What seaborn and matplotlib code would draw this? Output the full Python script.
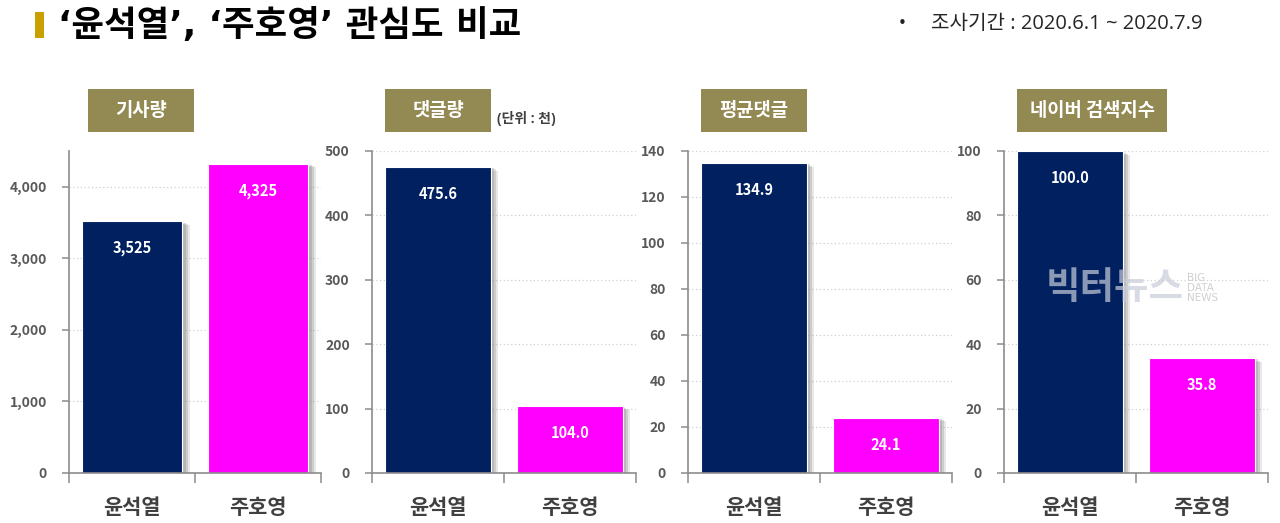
import matplotlib
matplotlib.use("Agg")
import matplotlib.pyplot as plt
import matplotlib.patheffects as pe
from matplotlib.patches import Rectangle
from matplotlib.ticker import FuncFormatter, FixedLocator
import seaborn as sns
import pandas as pd

sns.set_theme(style="white")
plt.rcParams['font.family'] = ['Noto Sans CJK KR', 'DejaVu Sans']

# ---- data ----
categories = ["윤석열", "주호영"]
panel_titles = ["기사량", "댓글량", "평균댓글", "네이버 검색지수"]
article_counts = [3525, 4325]
comment_counts = [475.6, 104.0]
avg_comments = [134.9, 24.1]
naver_index = [100.0, 35.8]
value_labels = [["3,525", "4,325"], ["475.6", "104.0"], ["134.9", "24.1"], ["100.0", "35.8"]]
y_ticks = [[0, 1000, 2000, 3000, 4000], [0, 100, 200, 300, 400, 500],
           [0, 20, 40, 60, 80, 100, 120, 140], [0, 20, 40, 60, 80, 100]]
y_max = [4500, 500, 140, 100]
title = "‘윤석열’, ‘주호영’ 관심도 비교"
subtitle = "조사기간 : 2020.6.1 ~ 2020.7.9"
unit_note = "(단위 : 천)"

series = [article_counts, comment_counts, avg_comments, naver_index]
colors = ["#002060", "#FF00FF"]

W, H = 1280, 523
fig = plt.figure(figsize=(W / 100, H / 100), dpi=100)
fig.patch.set_facecolor("white")

def px(x0, y0, w, h):
    return [x0 / W, 1 - (y0 + h) / H, w / W, h / H]

axes_px = [(69, 252), (372, 264), (688, 264), (1004, 264)]
box_px = [(88, 106), (385, 106), (701, 106), (1017, 150)]
top_y, zero_y = 151, 473
latin_kr = ['Open Sans', 'Noto Sans CJK KR']

shadow = [pe.SimplePatchShadow(offset=(o, -o * 0.5), shadow_rgbFace="#808080", alpha=a)
          for o, a in [(5.5, 0.18), (4, 0.25), (2.5, 0.3)]]

for i, (vals, (ax_x, ax_w)) in enumerate(zip(series, axes_px)):
    ax = fig.add_axes(px(ax_x, top_y, ax_w, zero_y - top_y))
    df = pd.DataFrame({"cat": categories, "val": vals})
    sns.barplot(data=df, x="cat", y="val", hue="cat", palette=colors,
                legend=False, ax=ax, width=0.8, saturation=1)
    for p in ax.patches:
        p.set_path_effects(shadow + [pe.Normal()])
        p.set_edgecolor("white")
        p.set_linewidth(0.8)
    ax.set_ylim(0, y_max[i])
    ax.set_xlim(-0.5, 1.5)
    ax.set_yticks(y_ticks[i])
    if i == 0:
        ax.yaxis.set_major_formatter(FuncFormatter(lambda v, _: f"{int(v):,}"))
    ax.grid(axis="y", color="#d0d0d0", linestyle=(0, (1, 2)), linewidth=0.9)
    ax.set_axisbelow(True)
    for s in ["top", "right"]:
        ax.spines[s].set_visible(False)
    for s in ["left", "bottom"]:
        ax.spines[s].set_color("#8c8c8c")
        ax.spines[s].set_linewidth(1.2)
    ax.tick_params(axis="y", which="major", length=5, width=1.1, color="#8c8c8c",
                   pad=11, labelsize=10, labelcolor="#595959", left=True)
    ax.tick_params(axis="x", which="major", length=0, pad=17, labelsize=15, labelcolor="#404040")
    ax.xaxis.set_minor_locator(FixedLocator([-0.5, 0.5, 1.5]))
    ax.tick_params(axis="x", which="minor", length=7, width=1.1, color="#8c8c8c", bottom=True)
    for lab in ax.get_yticklabels():
        lab.set_fontweight("bold")
    for lab in ax.get_xticklabels():
        lab.set_fontweight("bold")
    ax.set_xlabel("")
    ax.set_ylabel("")
    for j, p in enumerate(ax.patches[:2]):
        ax.annotate(value_labels[i][j], (p.get_x() + p.get_width() / 2, p.get_height()),
                    xytext=(0, -19.5), textcoords="offset points", ha="center", va="center",
                    color="white", fontsize=10.5, fontweight="bold")
    # panel title box
    bx, bw = box_px[i]
    fig.patches.append(Rectangle((bx / W, 1 - 132 / H), bw / W, 43 / H,
                                 transform=fig.transFigure, facecolor="#938953",
                                 edgecolor="none", zorder=0))
    fig.text((bx + bw / 2) / W, 1 - 110.5 / H, panel_titles[i], ha="center", va="center",
             color="white", fontsize=13.5, fontweight="bold")

# title
fig.patches.append(Rectangle((35 / W, 1 - 38 / H), 9 / W, 26 / H, transform=fig.transFigure,
                             facecolor="#C9A000", edgecolor="none"))
fig.text(58 / W, 1 - 25 / H, title, ha="left", va="center", fontsize=25.5,
         fontweight="bold", color="black", family=['DejaVu Sans', 'Noto Sans CJK KR'])
fig.text(902 / W, 1 - 24 / H, "•", ha="center", va="center", fontsize=11, color="#222222",
         family=["DejaVu Sans"])
fig.text(931 / W, 1 - 24 / H, subtitle, ha="left", va="center", fontsize=14.5, color="#262626",
         family=latin_kr)
fig.text(497 / W, 1 - 118 / H, unit_note, ha="left", va="center", fontsize=10,
         fontweight="bold", color="#404040", family=latin_kr)

# watermark
fig.text(1046 / W, 1 - 288 / H, "빅터뉴스", ha="left", va="center", fontsize=27,
         fontweight="black", color="#c8cdd8", alpha=0.7)
fig.text(1187 / W, 1 - 288 / H, "BIG\nDATA\nNEWS", ha="left", va="center", fontsize=7.5,
         color="#d0d0d0", linespacing=1.0, family=["DejaVu Sans"])

fig.savefig("out.png", dpi=100, facecolor="white")
